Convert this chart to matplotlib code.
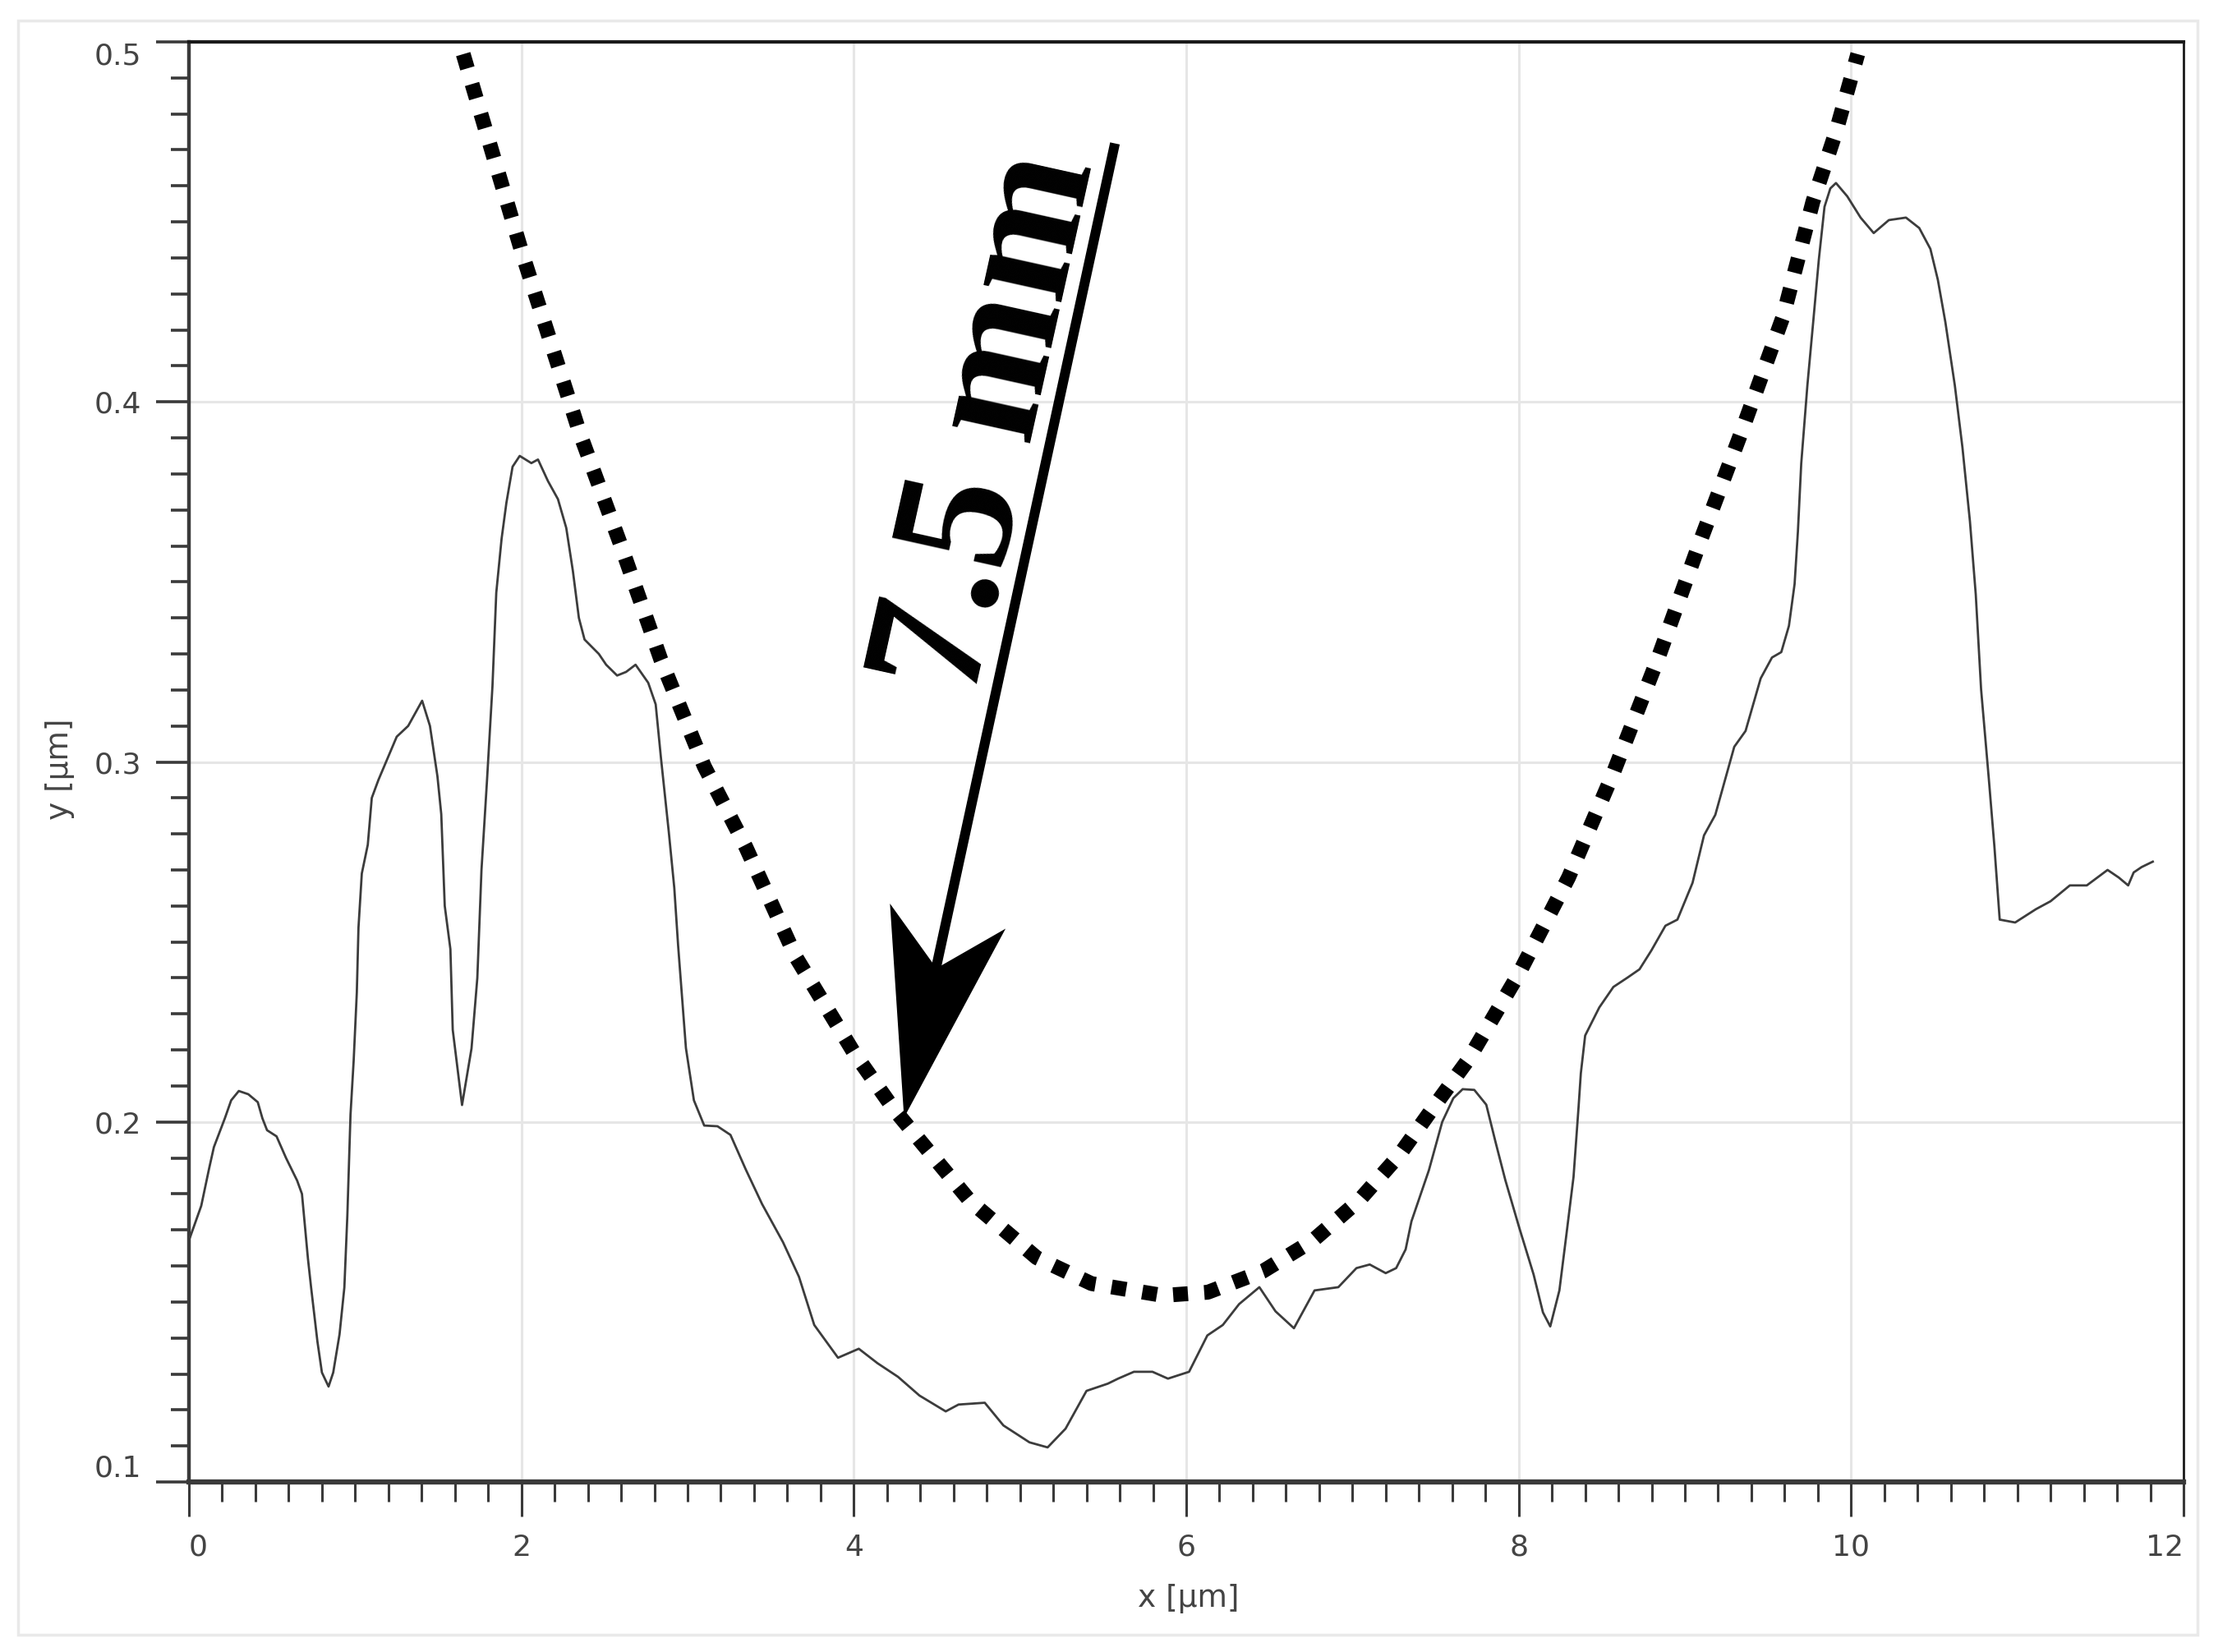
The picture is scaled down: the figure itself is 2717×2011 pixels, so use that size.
import numpy as np
import matplotlib
matplotlib.use("Agg")
import matplotlib.pyplot as plt
from matplotlib.ticker import MultipleLocator, FixedLocator
from matplotlib.markers import MarkerStyle
from matplotlib.path import Path
from matplotlib.transforms import Affine2D
from matplotlib.patches import Rectangle

# ---------------- data ----------------
profile_x = [0.007, 0.074, 0.121, 0.15, 0.216, 0.254, 0.30, 0.357, 0.414, 0.442, 0.47, 0.527,
             0.584, 0.651, 0.68, 0.697, 0.716, 0.735, 0.755, 0.773, 0.80, 0.84, 0.868, 0.906,
             0.935, 0.953, 0.972, 0.991, 1.01, 1.02, 1.04, 1.076, 1.10, 1.14, 1.25, 1.319,
             1.403, 1.45, 1.495, 1.518, 1.539, 1.573, 1.587, 1.643, 1.70, 1.735, 1.76, 1.793,
             1.826, 1.849, 1.881, 1.91, 1.947, 1.99, 2.06, 2.10, 2.16, 2.22, 2.27, 2.31,
             2.346, 2.38, 2.466, 2.51, 2.576, 2.63, 2.687, 2.763, 2.808, 2.84, 2.887, 2.92,
             2.943, 2.99, 3.038, 3.10, 3.18, 3.258, 3.35, 3.448, 3.574, 3.67, 3.762, 3.905,
             4.03, 4.142, 4.266, 4.395, 4.553, 4.63, 4.788, 4.90, 5.057, 5.166, 5.274, 5.40,
             5.528, 5.59, 5.685, 5.797, 5.89, 6.017, 6.127, 6.22, 6.318, 6.44, 6.537, 6.648,
             6.772, 6.915, 7.024, 7.104, 7.20, 7.263, 7.32, 7.355, 7.46, 7.54, 7.607, 7.663,
             7.733, 7.805, 7.862, 7.92, 8.003, 8.09, 8.146, 8.19, 8.245, 8.288, 8.33, 8.36,
             8.374, 8.40, 8.485, 8.57, 8.655, 8.727, 8.798, 8.883, 8.955, 9.046, 9.115, 9.183,
             9.297, 9.365, 9.456, 9.524, 9.58, 9.626, 9.66, 9.68, 9.70, 9.737, 9.772, 9.806,
             9.84, 9.875, 9.909, 9.977, 10.057, 10.136, 10.227, 10.33, 10.41, 10.477, 10.522,
             10.567, 10.624, 10.67, 10.715, 10.75, 10.782, 10.828, 10.862, 10.894, 10.987,
             11.112, 11.20, 11.316, 11.418, 11.543, 11.61, 11.667, 11.70, 11.748, 11.815]
profile_y = [0.168, 0.1767, 0.187, 0.193, 0.201, 0.206, 0.2086, 0.2077, 0.2055, 0.201, 0.1977, 0.196,
             0.190, 0.1837, 0.180, 0.1714, 0.162, 0.154, 0.146, 0.139, 0.1304, 0.1265, 0.1304, 0.141,
             0.154, 0.174, 0.202, 0.217, 0.236, 0.254, 0.269, 0.277, 0.290, 0.295, 0.307, 0.310,
             0.317, 0.310, 0.296, 0.2855, 0.260, 0.248, 0.2256, 0.2047, 0.2204, 0.240, 0.270, 0.2947,
             0.321, 0.347, 0.362, 0.372, 0.382, 0.385, 0.383, 0.384, 0.378, 0.373, 0.365, 0.353,
             0.340, 0.334, 0.330, 0.327, 0.324, 0.325, 0.327, 0.322, 0.316, 0.301, 0.2805, 0.265,
             0.249, 0.2205, 0.206, 0.199, 0.1988, 0.1964, 0.1868, 0.1772, 0.1666, 0.157, 0.1436, 0.1345,
             0.137, 0.133, 0.1292, 0.124, 0.1196, 0.1215, 0.122, 0.1157, 0.111, 0.1096, 0.1148, 0.1253,
             0.1273, 0.1287, 0.1306, 0.1306, 0.1287, 0.1306, 0.1407, 0.1436, 0.1494, 0.1541, 0.1474, 0.1427,
             0.1532, 0.1541, 0.1594, 0.1604, 0.158, 0.1594, 0.1646, 0.1724, 0.1866, 0.200, 0.2066, 0.2091,
             0.2089, 0.2048, 0.1942, 0.1838, 0.1707, 0.1576, 0.1471, 0.1432, 0.1532, 0.169, 0.1847, 0.2039,
             0.2135, 0.224, 0.2318, 0.2375, 0.2401, 0.2424, 0.2476, 0.2545, 0.2562, 0.2664, 0.2796, 0.2853,
             0.3042, 0.3086, 0.3232, 0.329, 0.3305, 0.3378, 0.3494, 0.364, 0.3829, 0.4046, 0.4222, 0.4396,
             0.4542, 0.4593, 0.4608, 0.4571, 0.4512, 0.4469, 0.4505, 0.4512, 0.4483, 0.4425, 0.4339,
             0.4222, 0.4046, 0.3873, 0.3668, 0.3465, 0.3202, 0.2956, 0.2766, 0.2562, 0.2554,
             0.2591, 0.2613, 0.2657, 0.2657, 0.270, 0.2679, 0.2657, 0.2693, 0.2708, 0.2723]

# hand-drawn dotted arc (annotation)
arc_x = [1.65, 2.0, 2.35, 2.6, 2.84, 3.1, 3.35, 3.65, 4.0, 4.24, 4.7, 5.1, 5.43, 5.86, 6.13,
         6.46, 6.76, 7.04, 7.28, 7.48, 7.7, 8.0, 8.3, 8.57, 8.84, 9.09, 9.34, 9.59, 9.77, 9.91, 10.04]
arc_y = [0.4966, 0.442, 0.3915, 0.360, 0.3283, 0.2988, 0.2764, 0.2459, 0.2193, 0.2036, 0.178, 0.1623,
         0.1551, 0.1518, 0.1527, 0.1585, 0.167, 0.1782, 0.1907, 0.2036, 0.2175, 0.2411, 0.2679, 0.297,
         0.329, 0.361, 0.3916, 0.4236, 0.4556, 0.4752, 0.4966]

arrow_start = (5.571, 0.4718)
arrow_tip = (4.30, 0.2013)
arrow_label = "7.5 mm"
label_pos = (5.08, 0.3914)

x_major = [0, 2, 4, 6, 8, 10, 12]
x_labels = ["0", "2", "4", "6", "8", "10", "12"]
y_major = [0.1, 0.2, 0.3, 0.4, 0.5]
y_labels = ["0.1", "0.2", "0.3", "0.4", "0.5"]
x_title = "x [µm]"
y_title = "y [µm]"

# ---------------- figure ----------------
W, H, DPI = 2717, 2011, 100
fig = plt.figure(figsize=(W / DPI, H / DPI), dpi=DPI, facecolor="white")
ax = fig.add_axes([230 / W, 1 - 1804 / H, (2658 - 230) / W, (1804 - 51) / H])

ax.set_xlim(0, 12)
ax.set_ylim(0.1, 0.5)

ax.plot(profile_x, profile_y, color="#3c3c3c", lw=2.0, zorder=3)
ax.plot(arc_x, arc_y, color="black", lw=13, linestyle=(0, (1, 1.1)),
        dash_capstyle="butt", zorder=4)

# ticks / grid
ax.xaxis.set_major_locator(FixedLocator(x_major))
ax.set_xticklabels(x_labels)
ax.yaxis.set_major_locator(FixedLocator(y_major))
ax.set_yticklabels(y_labels)
ax.xaxis.set_minor_locator(MultipleLocator(0.2))
ax.yaxis.set_minor_locator(MultipleLocator(0.01))
tick_col = "#3a3a3a"
ax.tick_params(axis="x", which="major", direction="out", length=30, width=2.2,
               color=tick_col, labelsize=26, labelcolor="#444444", pad=15)
ax.tick_params(axis="x", which="minor", direction="out", length=17, width=2.2, color=tick_col)
ax.tick_params(axis="y", which="major", direction="out", length=29, width=2.6,
               color=tick_col, labelsize=26, labelcolor="#444444", pad=13)
ax.tick_params(axis="y", which="minor", direction="out", length=16, width=2.6, color=tick_col)

for lab in ax.get_xticklabels():
    lab.set_fontfamily("DejaVu Sans")
xl = ax.get_xticklabels()
xl[0].set_horizontalalignment("left")
xl[-1].set_horizontalalignment("right")
yl = ax.get_yticklabels()
yl[0].set_verticalalignment("bottom")
yl[-1].set_verticalalignment("top")

ax.grid(True, which="major", color="#e6e6e6", lw=2.2, zorder=0)
ax.set_axisbelow(True)

ax.spines["left"].set_color("#3a3a3a")
ax.spines["left"].set_linewidth(3.2)
ax.spines["bottom"].set_color("#3a3a3a")
ax.spines["bottom"].set_linewidth(4.5)
ax.spines["top"].set_color("#1a1a1a")
ax.spines["top"].set_linewidth(3.0)
ax.spines["right"].set_color("#1a1a1a")
ax.spines["right"].set_linewidth(2.0)

# ---------------- arrow with notched head ----------------
p_tip = ax.transData.transform(arrow_tip)
p_start = ax.transData.transform(arrow_start)
d = p_tip - p_start
ang = np.degrees(np.arctan2(d[1], d[0]))
u = d / np.hypot(*d)
px_per_pt = DPI / 72.0
notch_disp = p_tip - u * 175
notch_data = ax.transData.inverted().transform(notch_disp)
ax.plot([arrow_start[0], notch_data[0]], [arrow_start[1], notch_data[1]],
        color="black", lw=12 / px_per_pt, solid_capstyle="butt", zorder=5)

head_len, head_half, notch_depth = 251.0, 72.0, 186.0
head_path = Path([(0, 0), (-head_len, head_half), (-notch_depth, 0),
                  (-head_len, -head_half), (0, 0)],
                 [Path.MOVETO, Path.LINETO, Path.LINETO, Path.LINETO, Path.CLOSEPOLY])
head_marker = MarkerStyle(head_path, transform=Affine2D().rotate_deg(ang))
ax.plot([arrow_tip[0]], [arrow_tip[1]], linestyle="none", marker=head_marker,
        markersize=2 * head_len / px_per_pt, color="black", markeredgewidth=0, zorder=6)

ax.text(label_pos[0], label_pos[1], arrow_label, rotation=77.5, rotation_mode="anchor",
        ha="center", va="baseline", fontsize=152, fontfamily="Liberation Serif",
        fontweight="bold", color="black", zorder=6)

# ---------------- axis titles & frame ----------------
fig.text(1447 / W, 1 - 1946 / H, x_title, ha="center", va="center", fontsize=27,
         color="#444444", fontfamily="DejaVu Sans")
fig.text(73 / W, 1 - 936 / H, y_title, ha="center", va="center", fontsize=27,
         color="#444444", rotation=90, fontfamily="DejaVu Sans")

fig.patches.append(Rectangle((22 / W, 1 - 1990 / H), (2675 - 22) / W, (1990 - 25) / H,
                             transform=fig.transFigure, fill=False, ec="#e9e9e9", lw=2.5))

fig.savefig("out.png", dpi=DPI, facecolor="white")
